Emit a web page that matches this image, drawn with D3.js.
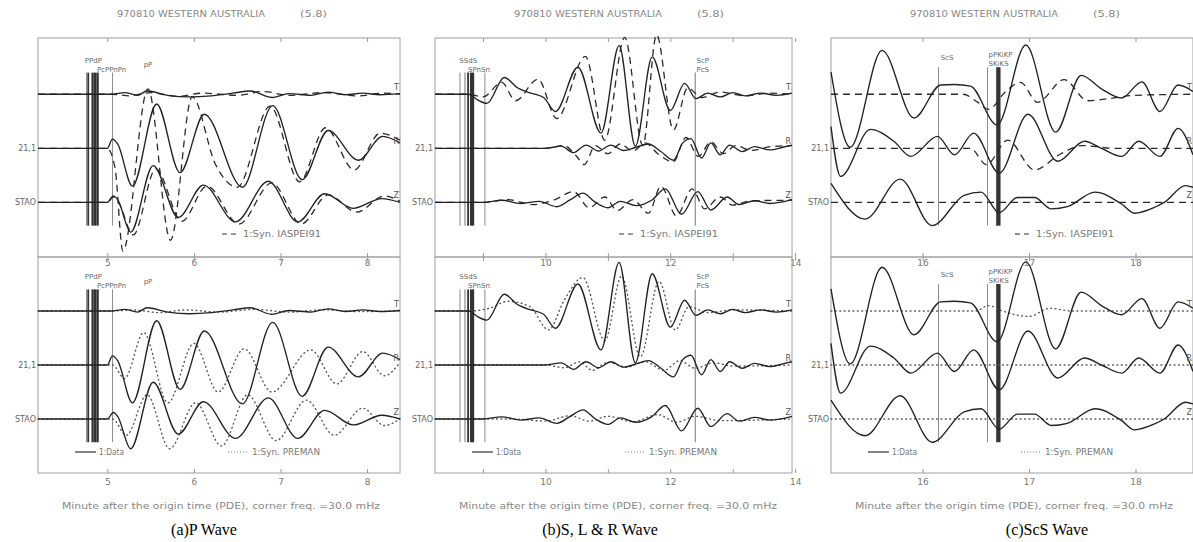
<!DOCTYPE html>
<html>
<head>
<meta charset="utf-8">
<script src="https://cdn.jsdelivr.net/npm/d3@7"></script>
<style>
  body { margin: 0; background: #fff; }
  svg text { font-family: "DejaVu Sans", sans-serif; }
</style>
</head>
<body>
<svg id="chart" width="1193" height="542"></svg>
<script>
// ---- texts ----
const titleText = "970810 WESTERN AUSTRALIA";
const magText = "(5.8)";
const axisText = "Minute after the origin time (PDE), corner freq. =30.0 mHz";
const captions = ["(a)P Wave", "(b)S, L & R Wave", "(c)ScS Wave"];
const stationLabels = ["", "21,1", "STAO"];
const compLabels = ["T", "R", "Z"];
const dataLegend = "1:Data";
const iaspLegend = "1:Syn. IASPEI91";
const premLegend = "1:Syn. PREMAN";

// ---- panel (a) P wave : [minute, amplitude] ----
const aDomain = [4.2, 8.38];
const aTicks = [5, 6, 7, 8];
const aTickLabels = [5, 6, 7, 8];
const aDataT = [[4.2,0],[5.06,0],[5.2,0.03],[5.35,-0.02],[5.46,0.06],[5.7,-0.02],[5.95,-0.05],[6.2,-0.03],[6.45,0.02],[6.65,0.06],[6.9,-0.06],[7.1,0.01],[7.35,-0.02],[7.55,0.04],[7.75,-0.01],[7.95,0.02],[8.15,-0.01],[8.38,0.01]];
const aDataR = [[4.2,0],[5.0,0],[5.06,0.17],[5.12,0.08],[5.29,-0.7],[5.57,0.82],[5.84,-0.45],[6.12,0.63],[6.56,-0.72],[6.91,0.79],[7.25,-0.58],[7.55,0.33],[7.9,-0.22],[8.18,0.22],[8.38,0.1]];
const aDataZ = [[4.2,0],[5.0,0],[5.07,0.12],[5.12,0.05],[5.27,-0.55],[5.53,0.68],[5.82,-0.28],[6.11,0.32],[6.48,-0.36],[6.86,0.39],[7.2,-0.36],[7.51,0.16],[7.84,-0.11],[8.17,0.07],[8.38,0]];
const aIaspT = [[4.2,0],[5.06,0],[5.25,-0.03],[5.5,0.03],[5.8,-0.04],[6.1,0.02],[6.5,-0.02],[6.8,0.05],[7.1,-0.02],[7.5,0.03],[7.9,-0.03],[8.2,0.02],[8.38,0]];
const aIaspR = [[4.2,0],[5.0,0],[5.09,-0.37],[5.18,-1.9],[5.47,1.1],[5.73,-1.7],[5.98,0.95],[6.25,-0.3],[6.5,-0.72],[6.88,0.78],[7.22,-0.62],[7.52,0.38],[7.85,-0.4],[8.15,0.28],[8.38,0.15]];
const aIaspZ = [[4.2,0],[5.0,0],[5.07,0.1],[5.13,0.0],[5.3,-0.6],[5.56,0.62],[5.86,-0.35],[6.15,0.3],[6.52,-0.4],[6.9,0.36],[7.24,-0.4],[7.55,0.14],[7.88,-0.18],[8.2,0.12],[8.38,0.02]];
const aPremT = [[4.2,0],[5.06,0],[5.3,0.02],[5.6,-0.03],[5.9,0.02],[6.3,-0.02],[6.7,0.03],[7.1,-0.02],[7.5,0.02],[7.9,-0.01],[8.38,0]];
const aPremR = [[4.2,0],[5.06,0],[5.2,-0.25],[5.42,0.6],[5.7,-0.7],[6.0,0.4],[6.28,-0.5],[6.58,0.3],[6.9,-0.5],[7.35,0.28],[7.65,-0.35],[7.95,0.25],[8.2,-0.2],[8.38,0.05]];
const aPremZ = [[4.2,0],[5.06,0],[5.22,-0.3],[5.46,0.45],[5.72,-0.55],[6.02,0.3],[6.32,-0.5],[6.62,0.45],[6.95,-0.4],[7.3,0.35],[7.62,-0.3],[7.95,0.2],[8.2,-0.12],[8.38,0]];
const aPhases = [4.76, 4.78, 4.83, 4.86, 4.89, 5.06];
const aPhaseNames = ["PPdP", "PcPPnPn", "pP"];
const aPhaseNameT = [4.74, 4.88, 5.42];

// ---- panel (b) S, L & R waves ----
const bDomain = [8.23, 13.95];
const bTicks = [9, 10, 11, 12, 13, 14];
const bTickLabels = [10, 12, 14];
const bDataT = [[8.23,0],[8.77,0],[8.92,-0.11],[9.06,-0.17],[9.34,0.31],[9.55,0.12],[9.71,0.04],[9.97,-0.06],[10.16,-0.32],[10.52,0.5],[10.89,-0.72],[11.18,0.9],[11.44,-0.96],[11.71,0.69],[12.0,-0.3],[12.23,0.2],[12.41,-0.08],[12.6,0.02],[12.8,-0.05],[13.0,0.03],[13.2,-0.03],[13.45,0.02],[13.7,-0.02],[13.95,0.02]];
const bDataR = [[8.23,0],[10.0,0],[10.25,0.04],[10.45,-0.08],[10.65,0.06],[10.85,-0.05],[11.05,0.06],[11.25,-0.04],[11.45,0.02],[11.65,0.08],[11.85,-0.06],[12.05,-0.22],[12.2,0.1],[12.33,0.18],[12.5,-0.18],[12.65,0.1],[12.8,-0.12],[12.95,0.06],[13.15,-0.06],[13.35,0.03],[13.6,-0.03],[13.8,0.02],[13.95,0.06]];
const bDataZ = [[8.23,0],[9.0,0],[9.3,0.04],[9.6,-0.02],[9.9,0.02],[10.18,-0.08],[10.4,0.05],[10.6,0.17],[10.8,0.0],[11.0,-0.1],[11.2,0.02],[11.45,-0.06],[11.7,0.04],[11.92,0.25],[12.18,-0.22],[12.44,0.2],[12.65,-0.14],[12.91,0.1],[13.1,-0.04],[13.35,0.03],[13.6,-0.02],[13.95,0.05]];
const bIaspT = [[8.23,0],[8.77,0],[9.0,-0.05],[9.3,0.22],[9.52,-0.12],[9.88,0.28],[10.18,-0.45],[10.64,0.7],[10.95,-0.85],[11.27,1.05],[11.56,-0.95],[11.78,1.1],[12.05,-0.66],[12.28,0.12],[12.5,-0.06],[12.8,0.04],[13.2,-0.03],[13.6,0.02],[13.95,0]];
const bIaspR = [[8.23,0],[10.0,0],[10.3,0.05],[10.5,-0.15],[10.62,-0.3],[10.8,0.05],[11.0,-0.1],[11.2,0.08],[11.4,-0.05],[11.6,0.1],[11.8,-0.1],[12.05,-0.25],[12.25,0.2],[12.45,-0.15],[12.65,0.12],[12.85,-0.1],[13.05,0.05],[13.3,-0.04],[13.6,0.03],[13.95,0.05]];
const bIaspZ = [[8.23,0],[9.0,0],[9.4,0.05],[9.8,-0.04],[10.15,0.05],[10.45,0.2],[10.7,-0.1],[10.95,0.1],[11.15,-0.15],[11.4,0.05],[11.65,-0.2],[11.85,0.3],[12.1,-0.25],[12.35,0.25],[12.55,-0.12],[12.8,0.1],[13.0,-0.05],[13.3,0.03],[13.95,0.04]];
const bPremT = [[8.23,0],[8.77,0],[9.1,0.05],[9.4,0.18],[9.75,0.08],[10.05,-0.35],[10.3,0.2],[10.6,0.62],[10.95,-0.55],[11.22,0.65],[11.52,-0.85],[11.82,0.55],[12.08,-0.35],[12.3,0.08],[12.6,-0.03],[13.0,0.02],[13.95,0]];
const bPremR = [[8.23,0],[10.0,0],[10.3,-0.05],[10.55,0.06],[10.75,-0.1],[11.0,0.05],[11.3,-0.04],[11.6,0.06],[11.9,-0.1],[12.15,0.08],[12.4,-0.06],[12.7,0.04],[13.0,-0.02],[13.95,0]];
const bPremZ = [[8.23,0],[9.5,0],[10.0,-0.04],[10.4,0.06],[10.7,-0.04],[11.0,0.05],[11.4,-0.05],[11.8,0.08],[12.1,-0.06],[12.4,0.05],[12.8,-0.03],[13.95,0]];
const bPhases = [8.63, 8.71, 8.76, 8.81, 8.84, 9.03, 12.4];
const bPhaseNames = ["SSdS", "SPnSn", "ScP", "PcS"];
const bPhaseNameT = [8.62, 8.76, 12.42, 12.42];

// ---- panel (c) ScS wave ----
const cDomain = [15.14, 18.54];
const cTicks = [16, 17, 18];
const cTickLabels = [16, 17, 18];
const cDataT = [[15.14,0.41],[15.32,-0.98],[15.62,0.81],[15.92,-0.44],[16.17,0.17],[16.3,0.18],[16.45,0.15],[16.7,-0.57],[16.97,0.91],[17.25,-0.7],[17.49,0.35],[17.68,0.1],[17.87,-0.07],[18.06,0.23],[18.23,-0.32],[18.4,0.17],[18.54,0.05]];
const cDataR = [[15.14,0.4],[15.23,-0.52],[15.51,0.35],[15.73,0.13],[15.89,-0.15],[16.14,0.22],[16.3,-0.12],[16.48,0.28],[16.72,-0.46],[16.99,0.63],[17.27,-0.24],[17.52,0.13],[17.68,0.0],[17.87,-0.15],[18.03,0.13],[18.23,-0.15],[18.4,0.37],[18.54,-0.12]];
const cDataZ = [[15.14,0.35],[15.46,-0.31],[15.79,0.43],[16.09,-0.43],[16.39,0.13],[16.55,0.19],[16.72,-0.19],[16.89,0.09],[17.05,0.09],[17.21,-0.12],[17.36,-0.08],[17.62,0.19],[17.87,-0.03],[17.99,-0.2],[18.18,-0.09],[18.27,0.0],[18.47,0.31],[18.54,0.28]];
const cIaspT = [[15.14,0],[16.38,0],[16.52,-0.15],[16.62,-0.28],[16.78,0.05],[16.92,0.22],[17.08,-0.15],[17.33,0.27],[17.55,-0.12],[17.75,-0.08],[18.0,-0.02],[18.54,0]];
const cIaspR = [[15.14,0],[16.45,0],[16.6,-0.3],[16.8,0.15],[17.05,-0.4],[17.3,-0.1],[17.5,0.05],[17.8,0],[18.54,0]];
const cIaspZ = [[15.14,0],[18.54,0]];
const cPremT = [[15.14,0],[16.5,0],[16.62,0.1],[16.75,0.0],[17.0,-0.1],[17.2,0.05],[17.4,0],[18.54,0]];
const cPremR = [[15.14,0],[18.54,0]];
const cPremZ = [[15.14,0],[18.54,0]];
const cPhases = [16.15, 16.61, 16.7, 16.72];
const cPhaseNames = ["ScS", "pPKiKP", "SKiKS"];
const cPhaseNameT = [16.17, 16.62, 16.62];

// ---- drawing ----
const svg = d3.select("#chart");
svg.append("rect").attr("width", 1193).attr("height", 542).attr("fill", "#fff");

const INK = "#222";

const addSubplot = (props) => {
  const defaultCtx = {
    x0: 38, x1: 400, y0: 38, y1: 257,
    yDomain: [0, 4],
    syn: [], synDash: "7,5", synColor: "#2a2a2a", synWidth: 1.3,
    phases: [], phaseWidths: [], phaseTop: 0.6, phaseBottom: 3.43,
    names: [], nameT: [], nameRows: [],
    labelPad: 4,
  };
  const ctx = { ...defaultCtx, ...props };
  const x = d3.scaleLinear().domain(ctx.domain).range([ctx.x0, ctx.x1]);
  const y = d3.scaleLinear().domain(ctx.yDomain).range([ctx.y0, ctx.y1]);
  const g = ctx.svg.append("g");

  // frame
  g.append("rect")
    .attr("x", ctx.x0).attr("y", ctx.y0)
    .attr("width", ctx.x1 - ctx.x0).attr("height", ctx.y1 - ctx.y0)
    .attr("fill", "none").attr("stroke", "#a0a0a0").attr("stroke-width", 1);

  // axes (ticks pointing inward)
  const bottom = g.append("g").attr("transform", `translate(0,${ctx.y1})`)
    .call(d3.axisBottom(x).tickValues(ctx.ticks).tickSize(-4).tickPadding(ctx.labelPad)
      .tickFormat((d) => (ctx.tickLabels.includes(d) ? d : "")));
  const top = g.append("g").attr("transform", `translate(0,${ctx.y0})`)
    .call(d3.axisTop(x).tickValues(ctx.ticks).tickSize(-4).tickFormat(""));
  [bottom, top].forEach((a) => {
    a.select(".domain").remove();
    a.selectAll("line").attr("stroke", "#999");
    a.selectAll("text").attr("fill", "#777").style("font-size", "9px").style("font-family", "DejaVu Sans, sans-serif");
  });

  // phase markers
  g.selectAll("line.phase")
    .data(ctx.phases)
    .join("line")
    .attr("class", "phase")
    .attr("x1", (d) => x(d)).attr("x2", (d) => x(d))
    .attr("y1", y(ctx.phaseTop))
    .attr("y2", y(ctx.phaseBottom))
    .attr("stroke", (d, i) => (ctx.phaseWidths[i] > 1.5 ? "#333" : "#8c8c8c"))
    .attr("stroke-width", (d, i) => ctx.phaseWidths[i] || 1);

  g.selectAll("text.pname")
    .data(ctx.names)
    .join("text")
    .attr("class", "pname")
    .attr("x", (d, i) => x(ctx.nameT[i]))
    .attr("y", (d, i) => y(ctx.phaseTop) - 10 + ctx.nameRows[i] * 9)
    .attr("fill", "#666").style("font-size", "7px")
    .text((d) => d);

  // traces: synthetic first, data on top
  [0, 1, 2].forEach((k) => {
    const base = k + 1;
    const path = d3.line().curve(d3.curveMonotoneX)
      .x((d) => x(d[0])).y((d) => y(base - d[1]));
    g.append("path").datum(ctx.syn[k]).attr("d", path)
      .attr("fill", "none").attr("stroke", ctx.synColor)
      .attr("stroke-width", ctx.synWidth).attr("stroke-dasharray", ctx.synDash)
      .attr("stroke-linecap", ctx.synCap || "butt");
    g.append("path").datum(ctx.data[k]).attr("d", path)
      .attr("fill", "none").attr("stroke", INK).attr("stroke-width", 1.35);

    g.append("text").attr("x", ctx.x0 - 2).attr("y", y(base) + 3)
      .attr("text-anchor", "end").attr("fill", "#666").style("font-size", "8px")
      .text(stationLabels[k]);
    g.append("text").attr("x", ctx.x1 - 1).attr("y", y(base) - 4)
      .attr("text-anchor", "end").attr("fill", "#555").style("font-size", "8px")
      .text(compLabels[k]);
  });
  return { x, y };
};

const addLegend = (props) => {
  const ctx = { ...props };
  const g = ctx.svg.append("g");
  g.append("line").attr("x1", ctx.x).attr("x2", ctx.x + ctx.len)
    .attr("y1", ctx.y).attr("y2", ctx.y)
    .attr("stroke", ctx.color).attr("stroke-width", 1.2)
    .attr("stroke-dasharray", ctx.dash || null);
  g.append("text").attr("x", ctx.x + ctx.len + 3).attr("y", ctx.y + 3)
    .attr("fill", "#777").style("font-size", "8px")
    .attr("textLength", ctx.textLen).attr("lengthAdjust", "spacingAndGlyphs")
    .text(ctx.text);
};

const colLeft = [38, 435, 831];
const colRight = [400, 792, 1193];
const captionX = [204, 600, 1047];

const panels = [
  { domain: aDomain, ticks: aTicks, tickLabels: aTickLabels,
    data: [aDataT, aDataR, aDataZ], iasp: [aIaspT, aIaspR, aIaspZ], prem: [aPremT, aPremR, aPremZ],
    phases: aPhases, phaseWidths: [1, 1.8, 2.2, 3, 2, 1],
    names: aPhaseNames, nameT: aPhaseNameT, nameRows: [0, 1, 0.5], phaseTop: 0.6 },
  { domain: bDomain, ticks: bTicks, tickLabels: bTickLabels,
    data: [bDataT, bDataR, bDataZ], iasp: [bIaspT, bIaspR, bIaspZ], prem: [bPremT, bPremR, bPremZ],
    phases: bPhases, phaseWidths: [1, 1.2, 1.8, 2.5, 2.2, 1, 1.2],
    names: bPhaseNames, nameT: bPhaseNameT, nameRows: [0, 1, 0, 1], phaseTop: 0.6 },
  { domain: cDomain, ticks: cTicks, tickLabels: cTickLabels,
    data: [cDataT, cDataR, cDataZ], iasp: [cIaspT, cIaspR, cIaspZ], prem: [cPremT, cPremR, cPremZ],
    phases: cPhases, phaseWidths: [1, 1, 1.8, 2.6],
    names: cPhaseNames, nameT: cPhaseNameT, nameRows: [0.3, 0, 1], phaseTop: 0.5 },
];

panels.forEach((p, i) => {
  const x0 = colLeft[i], x1 = colRight[i];

  // upper: data vs IASPEI91 (dashed)
  addSubplot({
    svg, x0, x1, y0: 38, y1: 257, yDomain: [-0.04, 4.01],
    domain: p.domain, ticks: p.ticks, tickLabels: p.tickLabels,
    data: p.data, syn: p.iasp, synDash: "7,5",
    phases: p.phases, phaseWidths: p.phaseWidths, phaseTop: p.phaseTop,
    names: p.names, nameT: p.nameT, nameRows: p.nameRows, labelPad: 3,
  });
  // lower: data vs PREM (dotted)
  addSubplot({
    svg, x0, x1, y0: 257, y1: 473, yDomain: [0, 4],
    domain: p.domain, ticks: p.ticks, tickLabels: p.tickLabels,
    data: p.data, syn: p.prem, synDash: "0.8,3.6", synCap: "round", synColor: "#555", synWidth: 1.4,
    phases: p.phases, phaseWidths: p.phaseWidths, phaseTop: p.phaseTop,
    names: p.names, nameT: p.nameT, nameRows: p.nameRows, labelPad: 6,
  });

  // title
  svg.append("text").attr("x", x0 + 79).attr("y", 17)
    .attr("fill", "#888").style("font-size", "8px")
    .attr("textLength", 148).attr("lengthAdjust", "spacingAndGlyphs").text(titleText);
  svg.append("text").attr("x", x0 + 262).attr("y", 17)
    .attr("fill", "#888").style("font-size", "8px")
    .attr("textLength", 27).attr("lengthAdjust", "spacingAndGlyphs").text(magText);

  // legends
  addLegend({ svg, x: x0 + 184, y: 234, len: 18, color: "#333", dash: "5,4", text: iaspLegend, textLen: 78 });
  addLegend({ svg, x: x0 + 37, y: 452, len: 21, color: "#333", text: dataLegend, textLen: 25 });
  addLegend({ svg, x: x0 + 190, y: 452, len: 21, color: "#777", dash: "1,2", text: premLegend, textLen: 68 });

  // axis label
  svg.append("text").attr("x", x0 + 24).attr("y", 509)
    .attr("fill", "#888").style("font-size", "8px")
    .attr("textLength", 318).attr("lengthAdjust", "spacingAndGlyphs").text(axisText);

  // caption
  svg.append("text").attr("x", captionX[i]).attr("y", 535)
    .attr("text-anchor", "middle").attr("fill", "#000")
    .style("font-family", "'Liberation Serif', 'Times New Roman', serif").style("font-size", "16px")
    .text(captions[i]);
});
</script>
</body>
</html>
